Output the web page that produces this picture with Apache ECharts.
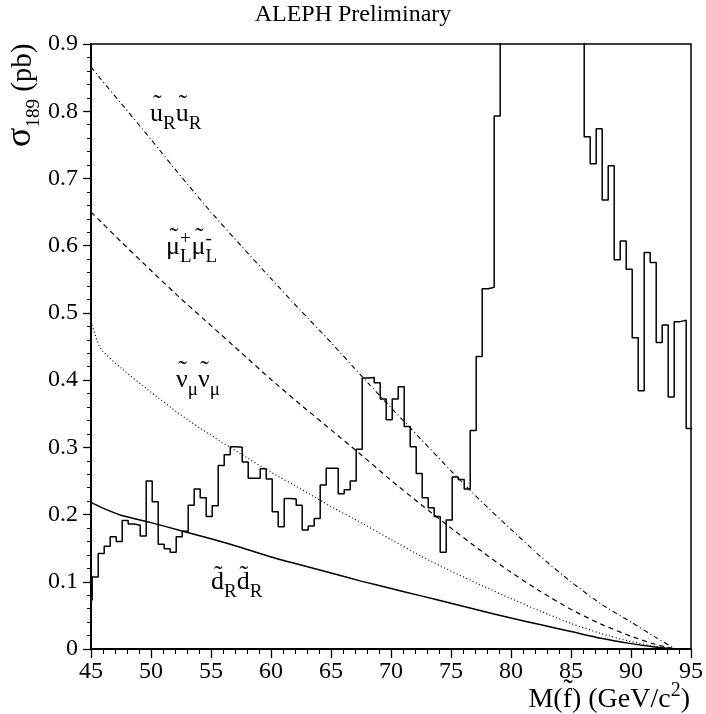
<!DOCTYPE html>
<html>
<head>
<meta charset="utf-8">
<script src="https://cdn.jsdelivr.net/npm/echarts@6/dist/echarts.min.js"></script>
<style>
html, body { margin: 0; padding: 0; background: #fff; }
#chart { width: 706px; height: 714px; }
</style>
</head>
<body>
<div id="chart"></div>
<script>
// measured cross-section histogram, 0.5 GeV bins, first bin starts at 44.6
var binStart = 44.6;
var binWidth = 0.5;
var histValues = [
  0.073, 0.107, 0.142, 0.153, 0.167, 0.160, 0.191, 0.186, 0.184, 0.168,
  0.250, 0.219, 0.156, 0.149, 0.144, 0.167, 0.175, 0.214, 0.238, 0.225,
  0.197, 0.213, 0.273, 0.289, 0.301, 0.300, 0.278, 0.254, 0.254, 0.268,
  0.253, 0.204, 0.182, 0.224, 0.223, 0.214, 0.177, 0.183, 0.194, 0.244,
  0.269, 0.269, 0.231, 0.237, 0.250, 0.297, 0.403, 0.404, 0.396, 0.372,
  0.341, 0.372, 0.390, 0.331, 0.301, 0.261, 0.225, 0.210, 0.197, 0.144,
  0.192, 0.256, 0.252, 0.238, 0.325, 0.435, 0.536, 0.538, 0.793,
  // 79.1 - 86.1 : off the top of the frame
  1.0, 1.0, 1.0, 1.0, 1.0, 1.0, 1.0, 1.0, 1.0, 1.0, 1.0, 1.0, 1.0, 1.0,
  0.762, 0.722, 0.774, 0.668, 0.719, 0.579, 0.607, 0.565, 0.463, 0.384,
  0.590, 0.575, 0.456, 0.482, 0.375, 0.487, 0.489, 0.328
];

// theory curves, read at these masses
var massPoints = [45, 45.8, 47.5, 50, 52.5, 55, 57.5, 60, 62.5, 65, 67.5, 70, 72.5, 75, 77.5, 80, 82.5, 85, 87.5, 90, 92, 93.7];
var sigmaUR  = [0.866, 0.848, 0.812, 0.758, 0.703, 0.650, 0.600, 0.551, 0.503, 0.456, 0.407, 0.359, 0.312, 0.265, 0.220, 0.178, 0.137, 0.100, 0.067, 0.040, 0.018, 0];
var sigmaMuL = [0.650, 0.636, 0.606, 0.563, 0.521, 0.481, 0.441, 0.401, 0.363, 0.326, 0.289, 0.251, 0.215, 0.180, 0.146, 0.114, 0.085, 0.059, 0.037, 0.019, 0.007, 0];
var sigmaNu  = [0.487, 0.447, 0.418, 0.382, 0.348, 0.318, 0.290, 0.263, 0.238, 0.212, 0.188, 0.163, 0.138, 0.116, 0.095, 0.075, 0.056, 0.038, 0.023, 0.011, 0.004, 0];
var sigmaDR  = [0.218, 0.211, 0.199, 0.188, 0.176, 0.164, 0.151, 0.137, 0.125, 0.113, 0.101, 0.090, 0.079, 0.068, 0.057, 0.046, 0.036, 0.026, 0.016, 0.008, 0.003, 0];

var FONT = '"Liberation Serif", "Times New Roman", serif';
var measureCtx = document.createElement('canvas').getContext('2d');
function textWidth(t, size) {
  measureCtx.font = size + 'px ' + FONT;
  return measureCtx.measureText(t).width;
}

function piece(t, px, baseline, fs) {
  return {
    type: 'text', x: px, y: baseline - fs * 0.34,
    style: {
      text: t, font: fs + 'px ' + FONT, fill: '#000',
      align: 'left', verticalAlign: 'middle',
      textAlign: 'left', textVerticalAlign: 'middle'
    }
  };
}

// text pieces on a common baseline: kind 'sub'/'sup', stack = same x as previous,
// tilde = extra lift of a tilde drawn over the piece (in em)
function mathText(x, y, parts, size, opt) {
  opt = opt || {};
  var kids = [], cx = 0, lastX = 0, lastW = 0;
  parts.forEach(function (p) {
    var kind = p.kind || '';
    var fs = p.size || (kind ? Math.round(size * 0.72) : size);
    var dy = p.dy != null ? p.dy : (kind === 'sub' ? size * 0.27 : (kind === 'sup' ? -size * 0.42 : 0));
    var w = textWidth(p.t, fs);
    var px = p.stack ? lastX : cx;
    kids.push(piece(p.t, px, dy, fs));
    if (p.tilde != null) {
      var tw = textWidth('\u02DC', fs);
      kids.push(piece('\u02DC', px + (w - tw) / 2 + fs * 0.03, dy - fs * p.tilde, fs));
    }
    if (p.stack) {
      cx = lastX + Math.max(w, lastW);
    } else {
      lastX = px; lastW = w; cx = px + w;
    }
  });
  var left = opt.alignRight ? x - cx : x;
  return { type: 'group', x: left, y: y, rotation: opt.rotation || 0, children: kids };
}

function pairs(xs, ys) {
  return xs.map(function (m, i) { return [m, ys[i]]; });
}

var histLine = [];
histValues.forEach(function (v, i) {
  var lo = binStart + i * binWidth;
  histLine.push([lo, v], [lo + binWidth, v]);
});

var chart = echarts.init(document.getElementById('chart'));

var curveBase = { type: 'line', showSymbol: false, smooth: 0.2, silent: true, z: 3 };

var LOW = 0.36, HIGH = 0.22;

chart.setOption({
  animation: false,
  backgroundColor: '#fff',
  grid: {
    left: 91, right: 11, top: 44, bottom: 65,
    show: true, borderColor: '#000', borderWidth: 1.5, backgroundColor: 'transparent'
  },
  xAxis: {
    type: 'value', min: 45, max: 95, interval: 5,
    axisLine: { lineStyle: { color: '#000', width: 2 } },
    axisTick: { inside: false, length: 9, lineStyle: { color: '#000', width: 1.3 } },
    minorTick: { show: true, splitNumber: 5, length: 5, lineStyle: { color: '#000', width: 1 } },
    axisLabel: { color: '#000', fontFamily: FONT, fontSize: 24, margin: 11 },
    splitLine: { show: false }
  },
  yAxis: {
    type: 'value', min: 0, max: 0.9, interval: 0.1,
    axisLine: { lineStyle: { color: '#000', width: 2 } },
    axisTick: { inside: false, length: 8, lineStyle: { color: '#000', width: 1.3 } },
    minorTick: { show: true, splitNumber: 5, length: 4, lineStyle: { color: '#000', width: 1 } },
    axisLabel: { color: '#000', fontFamily: FONT, fontSize: 24, margin: 13 },
    splitLine: { show: false }
  },
  series: [
    {
      type: 'line', data: histLine, showSymbol: false, silent: true, clip: true, z: 4,
      lineStyle: { color: '#000', width: 1.5 }
    },
    Object.assign({}, curveBase, {
      data: pairs(massPoints, sigmaDR),
      lineStyle: { color: '#000', width: 1.5, type: 'solid' }
    }),
    Object.assign({}, curveBase, {
      data: pairs(massPoints, sigmaNu),
      lineStyle: { color: '#000', width: 1.2, type: [1, 2.5] }
    }),
    Object.assign({}, curveBase, {
      data: pairs(massPoints, sigmaMuL),
      lineStyle: { color: '#000', width: 1.2, type: [5, 4] }
    }),
    Object.assign({}, curveBase, {
      data: pairs(massPoints, sigmaUR),
      lineStyle: { color: '#000', width: 1.1, type: [5, 3, 1, 3] }
    })
  ],
  graphic: [
    {
      type: 'text', x: 353, y: 15,
      style: {
        text: 'ALEPH Preliminary', font: '24px ' + FONT, fill: '#000',
        align: 'center', verticalAlign: 'middle', textAlign: 'center', textVerticalAlign: 'middle'
      }
    },
    mathText(33, 147, [
      { t: 'σ', size: 36 }, { t: '189', kind: 'sub', size: 19, dy: 7 }, { t: ' (pb)', size: 29 }
    ], 30, { rotation: Math.PI / 2 }),
    mathText(690, 709, [
      { t: 'M(' }, { t: 'f', tilde: 0.3 }, { t: ') (GeV/c' }, { t: '2', kind: 'sup' }, { t: ')' }
    ], 28, { alignRight: true }),
    mathText(150, 123, [
      { t: 'u', tilde: LOW }, { t: 'R', kind: 'sub' }, { t: 'u', tilde: LOW }, { t: 'R', kind: 'sub' }
    ], 26),
    mathText(166, 256, [
      { t: 'μ', tilde: LOW }, { t: 'L', kind: 'sub' }, { t: '+', kind: 'sup', stack: true },
      { t: 'μ', tilde: LOW }, { t: 'L', kind: 'sub' }, { t: '-', kind: 'sup', stack: true }
    ], 26),
    mathText(176, 389, [
      { t: 'ν', tilde: LOW }, { t: 'μ', kind: 'sub' }, { t: 'ν', tilde: LOW }, { t: 'μ', kind: 'sub' }
    ], 26),
    mathText(211, 591, [
      { t: 'd', tilde: HIGH }, { t: 'R', kind: 'sub' }, { t: 'd', tilde: HIGH }, { t: 'R', kind: 'sub' }
    ], 26)
  ]
});
</script>
</body>
</html>
